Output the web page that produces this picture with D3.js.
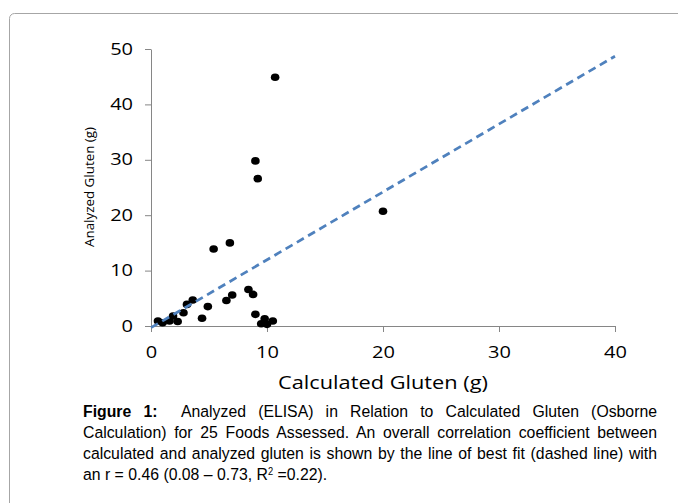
<!DOCTYPE html>
<html>
<head>
<meta charset="utf-8">
<script src="https://cdn.jsdelivr.net/npm/d3@7"></script>
<style>
body { margin: 0; background: #fff; }
svg { display: block; }
</style>
</head>
<body>
<div id="chart"></div>
<script>
// values (g)
var calcGluten = [0.6, 1.0, 1.6, 1.9, 2.3, 2.8, 3.1, 3.6, 4.4, 4.9, 6.5, 7.0, 8.4, 8.8, 9.0, 9.5, 9.8, 10.0, 10.5,
                  10.7, 9.0, 9.2, 20.0, 6.8, 5.4];
var analyzedGluten = [0.9, 0.6, 0.9, 1.8, 0.8, 2.4, 3.9, 4.7, 1.4, 3.5, 4.6, 5.6, 6.6, 5.7, 2.1, 0.4, 1.3, 0.3, 0.9,
                      44.9, 29.8, 26.6, 20.7, 15.0, 13.9];
var xTicks = [0, 10, 20, 30, 40];
var yTicks = [0, 10, 20, 30, 40, 50];
var trendSlope = 1.225;
var trendIntercept = -0.3;
var trendRange = [0, 40];

var width = 678;
var height = 503;

var svg = d3.select("#chart")
    .append("svg")
    .attr("width", width)
    .attr("height", height);

// frame of the figure box (runs off the right and bottom)
svg.append("rect")
    .attr("x", 9.5)
    .attr("y", 13.5)
    .attr("width", 720)
    .attr("height", 540)
    .attr("rx", 5)
    .attr("fill", "none")
    .attr("stroke", "#a6a6a6")
    .attr("stroke-width", 1);

var x = d3.scaleLinear().domain([0, 40]).range([151, 615]);
var y = d3.scaleLinear().domain([0, 50]).range([326, 49]);

function stretch(sel, k) {
    sel.each(function() {
        var len = this.getComputedTextLength();
        d3.select(this)
            .attr("textLength", len * k)
            .attr("lengthAdjust", "spacingAndGlyphs");
    });
}

var xAxis = svg.append("g")
    .attr("transform", "translate(0," + y(0) + ")")
    .call(d3.axisBottom(x).tickValues(xTicks).tickSize(6).tickPadding(15).tickSizeOuter(0));

var yAxis = svg.append("g")
    .attr("transform", "translate(" + x(0) + ",0)")
    .call(d3.axisLeft(y).tickValues(yTicks).tickSize(6).tickPadding(12).tickSizeOuter(0));

[xAxis, yAxis].forEach(function(ax) {
    ax.select(".domain").attr("stroke", "#868686");
    ax.selectAll(".tick line").attr("stroke", "#868686");
    ax.selectAll(".tick text")
        .attr("fill", "#000")
        .style("font-family", "'Open Sans', sans-serif")
        .style("font-size", "16px")
        .call(stretch, 1.25);
});

svg.append("text")
    .attr("x", 383)
    .attr("y", 389)
    .attr("text-anchor", "middle")
    .style("font-family", "'Open Sans', sans-serif")
    .style("font-size", "19px")
    .attr("textLength", 210)
    .attr("lengthAdjust", "spacingAndGlyphs")
    .text("Calculated Gluten (g)");

svg.append("text")
    .attr("transform", "translate(94,187) rotate(-90)")
    .attr("text-anchor", "middle")
    .style("font-family", "'Open Sans', sans-serif")
    .style("font-size", "13px")
    .attr("textLength", 120)
    .attr("lengthAdjust", "spacingAndGlyphs")
    .text("Analyzed Gluten (g)");

var pts = calcGluten.map(function(d, i) { return { cx: d, cy: analyzedGluten[i] }; });

svg.append("g")
    .selectAll("ellipse")
    .data(pts)
    .enter().append("ellipse")
    .attr("cx", function(d) { return x(d.cx); })
    .attr("cy", function(d) { return y(d.cy); })
    .attr("rx", 4.3)
    .attr("ry", 3.8)
    .attr("fill", "#000");

svg.append("path")
    .datum(trendRange)
    .attr("d", d3.line()
        .x(function(d) { return x(d); })
        .y(function(d) { return y(trendSlope * d + trendIntercept); }))
    .attr("fill", "none")
    .attr("stroke", "#4f81bd")
    .attr("stroke-width", 2.75)
    .attr("stroke-dasharray", "8,5");

// caption: slightly condensed glyphs, justified by widening the word gaps
var capFont = "'Liberation Sans', Arial, sans-serif";
var squeeze = 0.93;
var capX = 83;
var capW = 574;

var cap = svg.append("g")
    .attr("transform", "translate(" + capX + ",0) scale(" + squeeze + ",1)");

function justify(t, w) {
    var spaces = (t.text().match(/ /g) || []).length;
    var len = t.node().getComputedTextLength();
    if (len <= w) {
        t.attr("word-spacing", (w - len) / spaces);
    } else {
        t.attr("textLength", w).attr("lengthAdjust", "spacingAndGlyphs");
    }
}

function capLine(yPos) {
    return cap.append("text").attr("x", 0).attr("y", yPos)
        .style("font-family", capFont).style("font-size", "17px");
}

var l1 = capLine(417).attr("xml:space", "preserve");
l1.append("tspan").style("font-weight", "bold").text("Figure 1:");
l1.append("tspan").text("  Analyzed (ELISA) in Relation to Calculated Gluten (Osborne");
justify(l1, capW / squeeze);

justify(capLine(438).text("Calculation) for 25 Foods Assessed. An overall correlation coefficient between"), capW / squeeze);
justify(capLine(459).text("calculated and analyzed gluten is shown by the line of best fit (dashed line) with"), capW / squeeze);

var l4 = capLine(480);
l4.append("tspan").text("an r = 0.46 (0.08 \u2013 0.73, R");
l4.append("tspan").attr("dy", -5).style("font-size", "10px").text("2");
l4.append("tspan").attr("dy", 5).text(" =0.22).");
</script>
</body>
</html>
